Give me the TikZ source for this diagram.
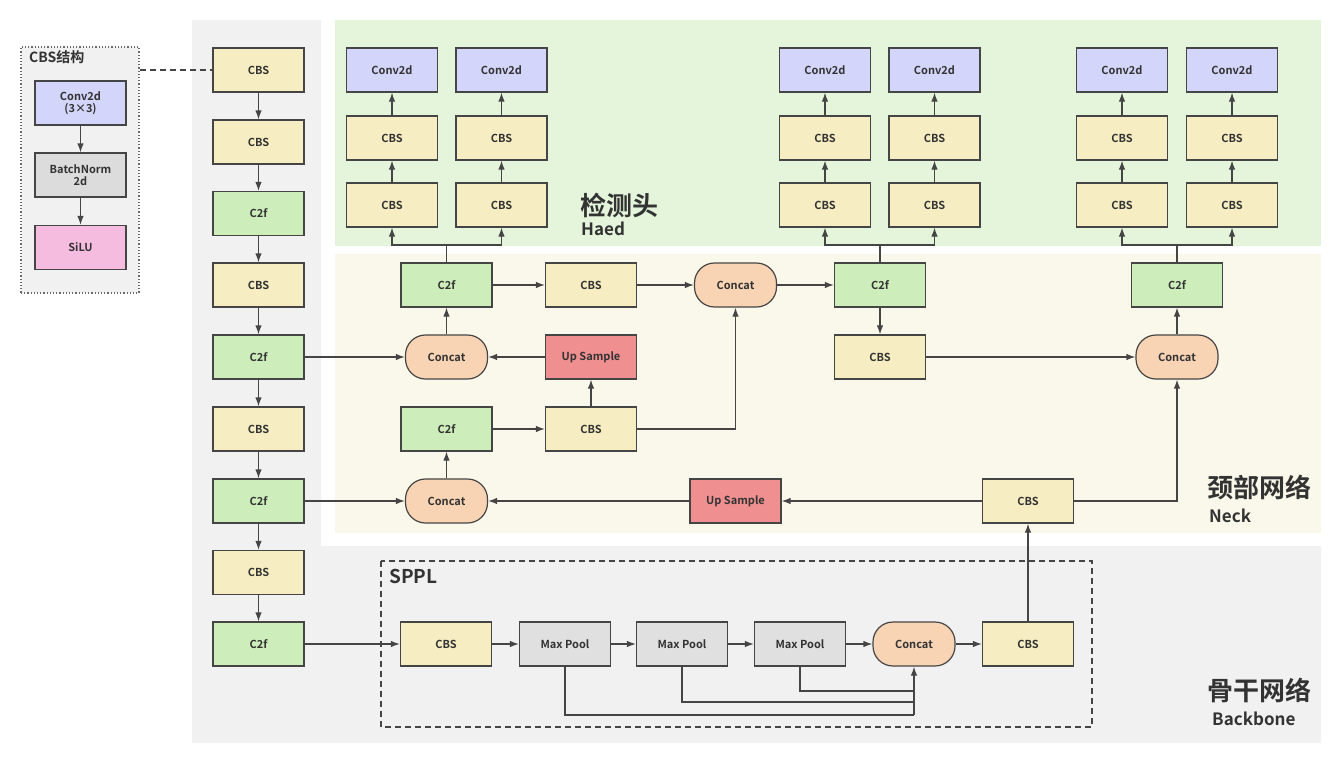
\documentclass[tikz,border=0pt]{standalone}
\usepackage{fontspec}
\setmainfont{Noto Sans CJK SC}[BoldFont={Noto Sans CJK SC Bold}]
\usetikzlibrary{arrows.meta}
\definecolor{linec}{HTML}{454545}
\definecolor{textc}{HTML}{333333}
\definecolor{cbsc}{HTML}{F6EEC2}
\definecolor{c2fc}{HTML}{CDEEBA}
\definecolor{convc}{HTML}{D3D5FA}
\definecolor{catc}{HTML}{F9D4B4}
\definecolor{upc}{HTML}{EF8F8F}
\definecolor{poolc}{HTML}{E0E0E0}
\definecolor{bnc}{HTML}{DCDCDC}
\definecolor{siluc}{HTML}{F6BCDF}
\definecolor{bgray}{HTML}{F1F1F1}
\definecolor{bgreen}{HTML}{E4F5DC}
\definecolor{byellow}{HTML}{FAF8EA}
\tikzset{
  blk/.style={draw=linec,line width=1.2pt,minimum width=91pt,minimum height=44pt,inner sep=0pt,
    text=textc,font=\bfseries\fontsize{11}{12.5}\selectfont},
  cbs/.style={blk,fill=cbsc},
  ctf/.style={blk,fill=c2fc},
  conv/.style={blk,fill=convc},
  pool/.style={blk,fill=poolc},
  upsm/.style={blk,fill=upc},
  cat/.style={blk,fill=catc,rounded corners=20pt,minimum width=82pt},
  ln/.style={draw=linec,line width=1.2pt},
  arr/.style={ln,-{Latex[length=9pt,width=6.5pt]}},
  bigtxt/.style={anchor=west,inner sep=0pt,text=textc,font=\bfseries\fontsize{26}{28}\selectfont},
  smalltxt/.style={anchor=west,inner sep=0pt,text=textc,font=\bfseries\fontsize{17}{19}\selectfont}
}
\begin{document}
\begin{tikzpicture}[x=1pt,y=-1pt]
  \useasboundingbox (0,0) rectangle (1341,763);
  \fill[bgray] (192,20) -- (321,20) -- (321,546) -- (1321,546) -- (1321,743) -- (192,743) -- cycle;
  \fill[bgreen] (335,20) rectangle (1321,246);
  \fill[byellow] (335,254) rectangle (1321,533);
  \draw[linec,dashed,line width=1.2pt,dash pattern=on 6pt off 4pt] (381,561) rectangle (1092,727);

  \node (cbsbox) at (80,170) [draw=linec!80,dotted,line width=1.2pt,fill=bgray,minimum width=118pt,minimum height=246pt] {};
  \node (cbstitle) at (29,57) [anchor=west,inner sep=0pt,text=textc,font=\bfseries\fontsize{14}{16}\selectfont] {CBS结构};
  \node (sconv) at (80.5,103) [conv,align=center] {Conv2d\\(3×3)};
  \node (sbn) at (80.5,175) [blk,fill=bnc,align=center] {BatchNorm\\2d};
  \node (ssilu) at (80.5,247.5) [blk,fill=siluc] {SiLU};
  \draw[arr] (sconv) -- (sbn);
  \draw[arr] (sbn) -- (ssilu);

  \node (headcn) at (580,205) [bigtxt] {检测头};
  \node (headen) at (581,229) [smalltxt] {Haed};
  \node (neckcn) at (1207,488) [bigtxt] {颈部网络};
  \node (necken) at (1209,516) [smalltxt] {Neck};
  \node (bbcn) at (1207,690) [bigtxt] {骨干网络};
  \node (bben) at (1212,719) [smalltxt] {Backbone};
  \node (sppl) at (389,576) [anchor=west,inner sep=0pt,text=textc,font=\bfseries\fontsize{19}{21}\selectfont] {SPPL};

  \foreach \i/\y/\s/\t in {1/70/cbs/CBS,2/142/cbs/CBS,3/213.5/ctf/C2f,4/285/cbs/CBS,5/357/ctf/C2f,
      6/429/cbs/CBS,7/501/ctf/C2f,8/572.5/cbs/CBS,9/644/ctf/C2f}
    \node (bb\i) at (258.5,\y) [\s] {\t};
  \foreach \i/\j in {1/2,2/3,3/4,4/5,5/6,6/7,7/8,8/9}
    \draw[arr] (bb\i) -- (bb\j);
  \draw[ln,dash pattern=on 6pt off 4pt] (cbsbox.east |- bb1) -- (bb1.west);

  \foreach \i/\x in {1/392,2/501.5,3/825,4/934.5,5/1122,6/1232} {
    \node (ha\i) at (\x,205) [cbs] {CBS};
    \node (hb\i) at (\x,138) [cbs] {CBS};
    \node (hc\i) at (\x,70) [conv] {Conv2d};
    \draw[arr] (ha\i) -- (hb\i);
    \draw[arr] (hb\i) -- (hc\i);
  }

  \node (nc1) at (446.5,285) [ctf] {C2f};
  \node (ncbs1) at (591,285) [cbs] {CBS};
  \node (ncat1) at (735.5,285) [cat] {Concat};
  \node (nc2) at (880,285) [ctf] {C2f};
  \node (nc3) at (1177,285) [ctf] {C2f};
  \node (ncat2) at (446.5,357) [cat] {Concat};
  \node (nup1) at (591,357) [upsm] {Up Sample};
  \node (ncbs2) at (880,357) [cbs] {CBS};
  \node (ncat3) at (1177,357) [cat] {Concat};
  \node (nc4) at (446.5,429) [ctf] {C2f};
  \node (ncbs3) at (591,429) [cbs] {CBS};
  \node (ncat4) at (446.5,501) [cat] {Concat};
  \node (nup2) at (735.5,501) [upsm] {Up Sample};
  \node (ncbs4) at (1028,501) [cbs] {CBS};

  \node (scbs1) at (446,644) [cbs] {CBS};
  \node (smp1) at (565,644) [pool] {Max Pool};
  \node (smp2) at (682,644) [pool] {Max Pool};
  \node (smp3) at (800,644) [pool] {Max Pool};
  \node (scat) at (914,644) [cat] {Concat};
  \node (scbs2) at (1028,644) [cbs] {CBS};

  \draw[arr] (bb5) -- (ncat2);
  \draw[arr] (bb7) -- (ncat4);
  \draw[arr] (bb9) -- (scbs1);
  \draw[arr] (scbs1) -- (smp1);
  \draw[arr] (smp1) -- (smp2);
  \draw[arr] (smp2) -- (smp3);
  \draw[arr] (smp3) -- (scat);
  \draw[arr] (scat) -- (scbs2);
  \coordinate (j1) at (914,715);
  \coordinate (j2) at (914,702);
  \coordinate (j3) at (914,691);
  \draw[ln] (smp1.south) |- (j1);
  \draw[ln] (smp2.south) |- (j2);
  \draw[ln] (smp3.south) |- (j3);
  \draw[arr] (j1) -- (scat.south);

  \draw[arr] (scbs2) -- (ncbs4);
  \draw[arr] (ncbs4) -- (nup2);
  \draw[arr] (nup2) -- (ncat4);
  \draw[arr] (ncbs4.east) -| (ncat3.south);
  \draw[arr] (ncat4) -- (nc4);
  \draw[arr] (nc4) -- (ncbs3);
  \draw[arr] (ncbs3) -- (nup1);
  \draw[arr] (ncbs3.east) -| (ncat1.south);
  \draw[arr] (nup1) -- (ncat2);
  \draw[arr] (ncat2) -- (nc1);
  \draw[arr] (nc1) -- (ncbs1);
  \draw[arr] (ncbs1) -- (ncat1);
  \draw[arr] (ncat1) -- (nc2);
  \draw[arr] (nc2) -- (ncbs2);
  \draw[arr] (ncbs2) -- (ncat3);
  \draw[arr] (ncat3) -- (nc3);

  \coordinate (b1) at (446.5,245);
  \coordinate (b2) at (880,245);
  \coordinate (b3) at (1177,245);
  \draw[ln] (nc1) -- (b1);
  \draw[ln] (nc2) -- (b2);
  \draw[ln] (nc3) -- (b3);
  \draw[arr] (b1) -| (ha1);
  \draw[arr] (b1) -| (ha2);
  \draw[arr] (b2) -| (ha3);
  \draw[arr] (b2) -| (ha4);
  \draw[arr] (b3) -| (ha5);
  \draw[arr] (b3) -| (ha6);
\end{tikzpicture}
\end{document}
